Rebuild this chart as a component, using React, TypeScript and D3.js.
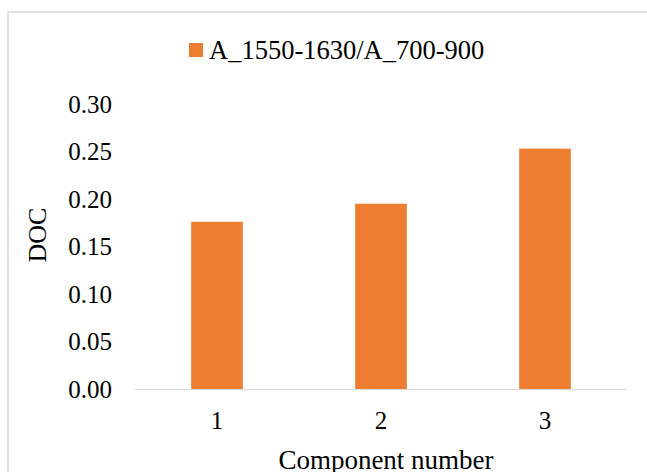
import React from "react";
import * as d3 from "d3";

const categories = ["1", "2", "3"];
const values = [0.176, 0.195, 0.253];
const yTicks = [0, 0.05, 0.1, 0.15, 0.2, 0.25, 0.3];
const seriesName = "A_1550-1630/A_700-900";
const xTitle = "Component number";
const yTitle = "DOC";

const W = 647;
const H = 472;
const FONT = "Liberation Serif, Times New Roman, Times, DejaVu Serif, serif";

export default function App() {
  const x = d3.scaleBand<string>().domain(categories).range([135, 627]).paddingInner(0.685).paddingOuter(0.3425);
  const y = d3.scaleLinear().domain([0, 0.3]).range([389, 104]);
  const fmt = d3.format(".2f");
  const txt = { fontFamily: FONT, fill: "#000" } as React.CSSProperties;
  return (
    <svg width={W} height={H} style={{ position: "absolute", left: 0, top: 0, background: "#fff" }}>
      <rect x={8} y={12} width={W + 10} height={H + 10} fill="#fff" stroke="#D9D9D9" strokeWidth={1.5} />
      {/* legend */}
      <rect x={189} y={43} width={14} height={14} fill="#ED7D31" />
      <text x={209} y={50} dominantBaseline="central" style={{ ...txt, fontSize: 26.5 }}>{seriesName}</text>
      {/* y ticks */}
      {yTicks.map((t) => (
        <text key={t} x={112} y={y(t)} textAnchor="end" dominantBaseline="central" style={{ ...txt, fontSize: 25 }}>{fmt(t)}</text>
      ))}
      {/* bars */}
      {values.map((v, i) => (
        <rect key={i} x={x(categories[i])!} y={y(v)} width={x.bandwidth()} height={y(0) - y(v)} fill="#ED7D31" />
      ))}
      {/* x axis */}
      <line x1={135} x2={627} y1={y(0) + 0.5} y2={y(0) + 0.5} stroke="#D9D9D9" strokeWidth={1} />
      {categories.map((c) => (
        <text key={c} x={x(c)! + x.bandwidth() / 2} y={420} textAnchor="middle" dominantBaseline="central" style={{ ...txt, fontSize: 25 }}>{c}</text>
      ))}
      <text x={386} y={460} textAnchor="middle" dominantBaseline="central" style={{ ...txt, fontSize: 27 }}>{xTitle}</text>
      <text transform={`translate(37,235) rotate(-90)`} textAnchor="middle" dominantBaseline="central" style={{ ...txt, fontSize: 26 }}>{yTitle}</text>
    </svg>
  );
}
